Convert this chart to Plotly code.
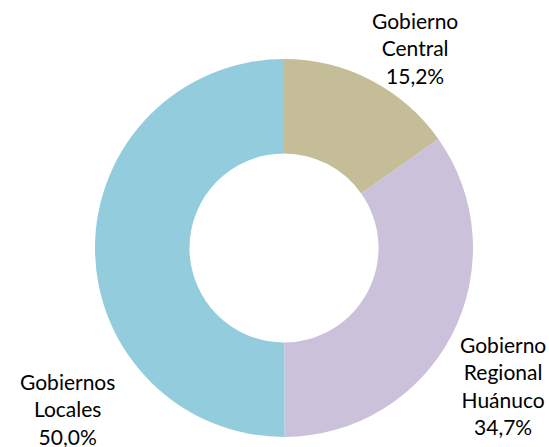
import plotly.graph_objects as go

categories = ["Gobierno Central", "Gobierno Regional Huánuco", "Gobiernos Locales"]
values = [15.2, 34.7, 50.0]
label_texts = ["Gobierno<br>Central<br>15,2%", "Gobierno<br>Regional<br>Huánuco<br>34,7%", "Gobiernos<br>Locales<br>50,0%"]
colors = ["#C4BD97", "#CCC1DA", "#93CDDD"]

W, H = 549, 447
cx, cy, r = 284, 248, 189

fig = go.Figure(go.Pie(
    labels=categories, values=values, hole=0.5, sort=False, direction="clockwise",
    rotation=0, marker=dict(colors=colors, line=dict(width=0)),
    textinfo="none", hoverinfo="label+percent", showlegend=False,
    domain=dict(x=[(cx - r) / W, (cx + r) / W], y=[(H - cy - r) / H, (H - cy + r) / H]),
))

label_pos = [(415, 48), (503, 385), (67, 409)]
for t, (x, y) in zip(label_texts, label_pos):
    fig.add_annotation(text=t, x=x / W, y=1 - y / H, xref="paper", yref="paper",
                       showarrow=False, xanchor="center", yanchor="middle",
                       font=dict(family="Lato, Carlito, sans-serif", size=21, color="#000000"))

fig.update_layout(width=W, height=H, margin=dict(l=0, r=0, t=0, b=0),
                  paper_bgcolor="white", plot_bgcolor="white")
fig.write_html("out.html", config={"displayModeBar": False},
               post_script="document.body.style.margin='0';document.body.style.overflow='hidden';")
